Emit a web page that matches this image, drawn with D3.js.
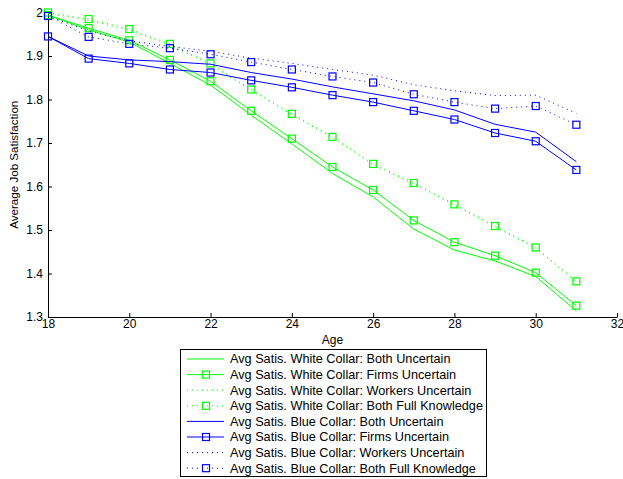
<!DOCTYPE html>
<html><head><meta charset="utf-8">
<script src="https://cdn.jsdelivr.net/npm/d3@7"></script>
<style>
body{margin:0;background:#fff;}
svg{display:block;font-family:"Liberation Sans",Arial,sans-serif;}
</style></head>
<body><svg id="c" width="623" height="479"></svg>
<script>
const ages = [18,19,20,21,22,23,24,25,26,27,28,29,30,31];
const whiteBothUncertain   = [1.994,1.960,1.932,1.883,1.833,1.764,1.698,1.630,1.576,1.502,1.454,1.429,1.393,1.314];
const whiteFirmsUncertain  = [1.994,1.964,1.936,1.891,1.842,1.774,1.710,1.645,1.592,1.522,1.472,1.441,1.402,1.326];
const whiteWorkersUncertain= [1.998,1.982,1.959,1.925,1.880,1.821,1.765,1.712,1.650,1.606,1.557,1.507,1.458,1.380];
const whiteFullKnowledge   = [2.000,1.985,1.962,1.928,1.883,1.823,1.767,1.714,1.652,1.608,1.559,1.509,1.460,1.382];
const blueBothUncertain    = [1.945,1.900,1.891,1.887,1.881,1.862,1.847,1.829,1.813,1.797,1.776,1.743,1.725,1.657];
const blueFirmsUncertain   = [1.945,1.894,1.883,1.869,1.862,1.844,1.828,1.810,1.794,1.774,1.754,1.723,1.704,1.638];
const blueWorkersUncertain = [1.992,1.957,1.935,1.922,1.911,1.895,1.883,1.869,1.856,1.834,1.820,1.809,1.810,1.768];
const blueFullKnowledge    = [1.992,1.944,1.928,1.918,1.904,1.886,1.869,1.853,1.839,1.812,1.794,1.779,1.785,1.742];
const xTicks = [18,20,22,24,26,28,30,32];
const yTicks = [1.3,1.4,1.5,1.6,1.7,1.8,1.9,2];
const yTickLabels = ["1.3","1.4","1.5","1.6","1.7","1.8","1.9","2"];
const seriesNames = [
 "Avg Satis. White Collar: Both Uncertain",
 "Avg Satis. White Collar: Firms Uncertain",
 "Avg Satis. White Collar: Workers Uncertain",
 "Avg Satis. White Collar: Both Full Knowledge",
 "Avg Satis. Blue Collar: Both Uncertain",
 "Avg Satis. Blue Collar: Firms Uncertain",
 "Avg Satis. Blue Collar: Workers Uncertain",
 "Avg Satis. Blue Collar: Both Full Knowledge"];
const seriesValues = [whiteBothUncertain,whiteFirmsUncertain,whiteWorkersUncertain,whiteFullKnowledge,
  blueBothUncertain,blueFirmsUncertain,blueWorkersUncertain,blueFullKnowledge];
const seriesColors = ["#00ff00","#00ff00","#00ff00","#00ff00","#0000ff","#0000ff","#0000ff","#0000ff"];
const seriesDotted = [false,false,true,true,false,false,true,true];
const seriesMarker = [false,true,false,true,false,true,false,true];

const svg = d3.select("#c");
const L=48,R=617,T=12.5,B=317;
const x = d3.scaleLinear().domain([18,32]).range([L,R]);
const y = d3.scaleLinear().domain([1.3,2]).range([B,T]);

const fs = 11.6, tfs = 12, lfs = 12.7;
// axes
const gx = svg.append("g").attr("transform",`translate(0,${B})`)
  .call(d3.axisBottom(x).tickValues(xTicks).tickFormat(d3.format("d")).tickSizeInner(-4).tickSizeOuter(0).tickPadding(2));
const gy = svg.append("g").attr("transform",`translate(${L},0)`)
  .call(d3.axisLeft(y).tickValues(yTicks).tickFormat((d,i)=>yTickLabels[i]).tickSizeInner(-4).tickSizeOuter(0).tickPadding(5));
[gx,gy].forEach(g=>{
  g.selectAll("text").attr("font-size",tfs).attr("font-family","Liberation Sans, Arial, sans-serif").attr("fill","#000");
  g.selectAll("line").attr("stroke","#000");
  g.select(".domain").attr("stroke","#000");
});

svg.append("text").attr("x",(L+R)/2).attr("y",344).attr("text-anchor","middle").attr("font-size",12).text("Age");
svg.append("text").attr("transform",`translate(18,${(T+B)/2}) rotate(-90)`).attr("text-anchor","middle").attr("font-size",fs).text("Average Job Satisfaction");

const line = d3.line().x((d,i)=>x(ages[i])).y(d=>y(d));
seriesValues.forEach((vals,k)=>{
  svg.append("path").datum(vals).attr("d",line).attr("fill","none")
    .attr("stroke",seriesColors[k]).attr("stroke-width",1)
    .attr("stroke-dasharray",seriesDotted[k]?"1,4":null);
  if(seriesMarker[k]){
    svg.append("g").selectAll("rect").data(vals).join("rect")
      .attr("x",(d,i)=>x(ages[i])-3.5).attr("y",d=>y(d)-3.5)
      .attr("width",7).attr("height",7).attr("fill","none")
      .attr("stroke",seriesColors[k]).attr("stroke-width",1.2);
  }
});

// legend
const lg = svg.append("g");
lg.append("rect").attr("x",180.5).attr("y",349.5).attr("width",306).attr("height",127)
  .attr("fill","#fff").attr("stroke","#000").attr("stroke-width",1);
seriesNames.forEach((name,k)=>{
  const yy = 359 + k*15.6;
  lg.append("line").attr("x1",187).attr("x2",224).attr("y1",yy).attr("y2",yy)
    .attr("stroke",seriesColors[k]).attr("stroke-width",1)
    .attr("stroke-dasharray",seriesDotted[k]?"1,4":null);
  if(seriesMarker[k]){
    lg.append("rect").attr("x",206-3.5).attr("y",yy-3.5).attr("width",7).attr("height",7)
      .attr("fill","none").attr("stroke",seriesColors[k]).attr("stroke-width",1.2);
  }
  lg.append("text").attr("x",230).attr("y",yy).attr("dy","0.35em").attr("font-size",lfs).text(name);
});
</script></body></html>
